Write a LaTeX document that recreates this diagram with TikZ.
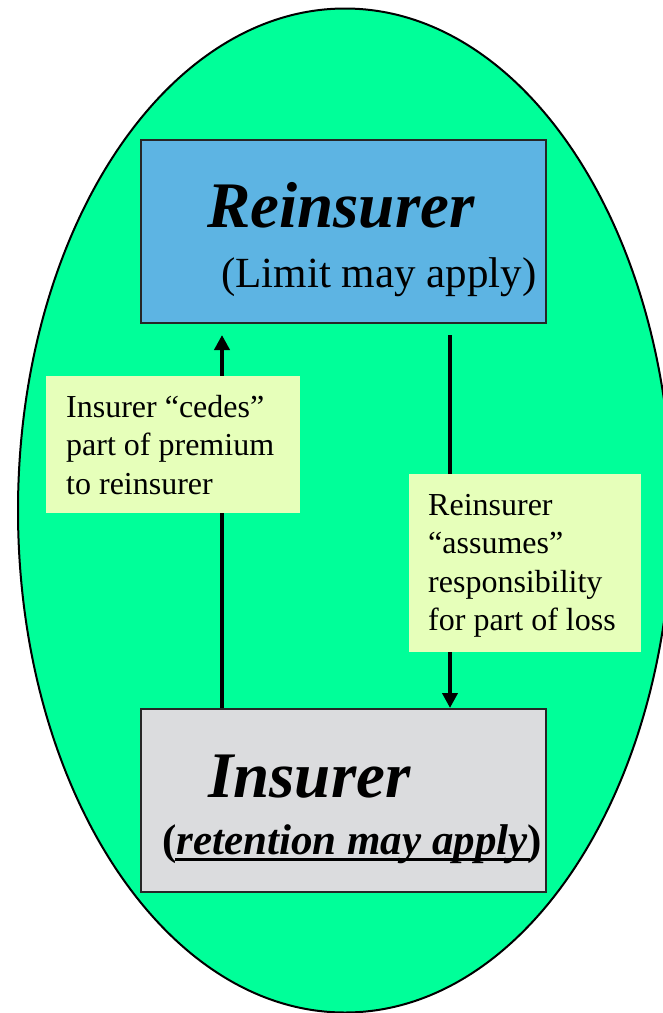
\documentclass[tikz,border=0pt]{standalone}
\usepackage{fontspec}
\setmainfont{Liberation Serif}
\usetikzlibrary{arrows.meta,shapes.geometric}
\definecolor{fieldgreen}{RGB}{0,255,153}
\definecolor{reiblue}{RGB}{93,180,227}
\definecolor{insgray}{RGB}{219,220,222}
\definecolor{notefill}{RGB}{230,255,186}
\tikzset{
  party/.style={draw=black!85, line width=2pt, minimum width=405pt, minimum height=183pt, inner sep=0pt},
  note/.style={fill=notefill, inner sep=0pt, anchor=north west},
  notetext/.style={anchor=north west, inner sep=0pt, align=left, font=\fontsize{32}{38.5}\selectfont},
  title/.style={anchor=base west, inner sep=0pt, font=\fontsize{65}{70}\selectfont\bfseries\itshape},
  subtitle/.style={anchor=base west, inner sep=0pt, font=\fontsize{43}{48}\selectfont},
  flow/.style={line width=4pt, -{Triangle[length=15pt,width=15pt]}}
}
\begin{document}
\begin{tikzpicture}[x=1pt,y=-1pt]
\useasboundingbox (0,0) rectangle (662,1013);
% surrounding field
\node[ellipse, draw=black, line width=2pt, fill=fieldgreen, inner sep=0pt,
      minimum width=654pt, minimum height=1004pt] (field) at (345,510.5) {};
% the two parties
\node[party, fill=reiblue] (rei) at (343.5,231.5) {};
\node[party, fill=insgray] (ins) at (343.5,800.5) {};
\node[title] (reiName) at (207,227) {Reinsurer};
\node[subtitle] (reiLimit) at (221,287) {(Limit may apply)};
\node[title] (insName) at (208,797) {Insurer};
\node[subtitle, font=\fontsize{43}{48}\selectfont\bfseries] (insRet) at (162,854)
  {(\textit{retention may apply})};
\draw[line width=3pt] (175,859) -- (530,859);
% flows between the parties
\coordinate (cedeTip) at (222,335);
\coordinate (assumeTop) at (450,335);
\draw[flow] (ins.north -| cedeTip) -- (cedeTip);
\draw[flow] (assumeTop) -- (ins.north -| assumeTop);
% explanatory notes
\node[note, minimum width=254pt, minimum height=137pt] (cedeBox) at (46,376) {};
\node[notetext] (cedeText) at (66,395) {Insurer “cedes”\\part of premium\\to reinsurer};
\node[note, minimum width=232pt, minimum height=178pt] (assumeBox) at (409,474) {};
\node[notetext] (assumeText) at (428,494) {Reinsurer\\“assumes”\\responsibility\\for part of loss};
\end{tikzpicture}
\end{document}
